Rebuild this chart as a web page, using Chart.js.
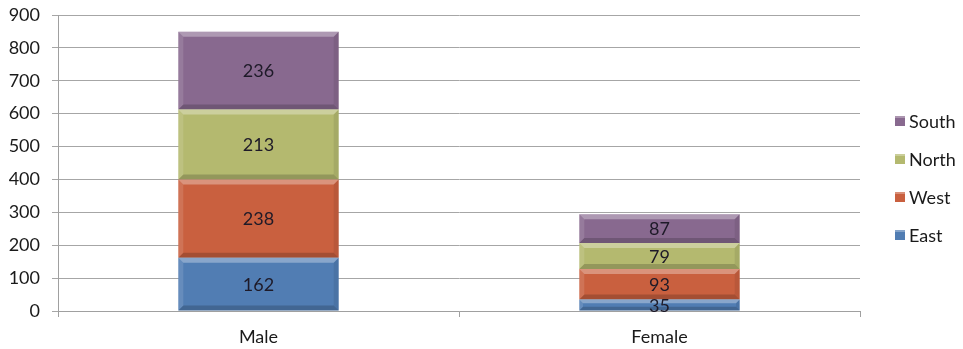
<!DOCTYPE html>
<html>
<head>
<meta charset="utf-8">
<script src="https://cdn.jsdelivr.net/npm/chart.js@4/dist/chart.umd.min.js"></script>
<style>
  body { margin: 0; background: #fff; }
  #wrap { width: 963px; height: 349px; }
</style>
</head>
<body>
<div id="wrap"><canvas id="regionChart"></canvas></div>
<script>
// Sales by gender and region
const categories = ['Male', 'Female'];
const east = [162, 35];
const west = [238, 93];
const north = [213, 79];
const south = [236, 87];
const yMax = 900;
const yStep = 100;

const FONT = 'Lato, "Liberation Sans", sans-serif';
const FONT_SIZE = 18;

// Excel-ish bevel: light strip on top, darker strip along the bottom
const bevel = {
    id: 'bevel',
    afterDatasetsDraw(chart) {
        const c = chart.ctx;
        chart.data.datasets.forEach((ds, i) => {
            chart.getDatasetMeta(i).data.forEach(bar => {
                const l = bar.x - bar.width / 2, r = bar.x + bar.width / 2;
                const t = bar.y, b = bar.base;
                const h = Math.min(5, (b - t) / 3);
                c.save();
                c.fillStyle = 'rgba(255,255,255,0.32)';
                c.beginPath();
                c.moveTo(l, t); c.lineTo(r, t); c.lineTo(r - h, t + h); c.lineTo(l + h, t + h);
                c.closePath(); c.fill();
                c.fillStyle = 'rgba(0,0,0,0.18)';
                c.beginPath();
                c.moveTo(l, b); c.lineTo(r, b); c.lineTo(r - h, b - h); c.lineTo(l + h, b - h);
                c.closePath(); c.fill();
                c.fillStyle = 'rgba(0,0,0,0.08)';
                c.beginPath();
                c.moveTo(r, t); c.lineTo(r, b); c.lineTo(r - h, b - h); c.lineTo(r - h, t + h);
                c.closePath(); c.fill();
                c.fillStyle = 'rgba(255,255,255,0.12)';
                c.beginPath();
                c.moveTo(l, t); c.lineTo(l, b); c.lineTo(l + h, b - h); c.lineTo(l + h, t + h);
                c.closePath(); c.fill();
                c.restore();
            });
        });
    }
};

// value in the middle of every segment
const valueLabels = {
    id: 'valueLabels',
    afterDatasetsDraw(chart) {
        const c = chart.ctx;
        c.save();
        c.font = FONT_SIZE + 'px ' + FONT;
        c.fillStyle = '#1e1a28';
        c.textAlign = 'center';
        c.textBaseline = 'middle';
        chart.data.datasets.forEach((ds, i) => {
            chart.getDatasetMeta(i).data.forEach((bar, j) => {
                c.fillText(ds.data[j], bar.x, (bar.y + bar.base) / 2 + 1);
            });
        });
        c.restore();
    }
};

// legend on the right, top entry is the top of the stack
const sideLegend = {
    id: 'sideLegend',
    afterDraw(chart) {
        const c = chart.ctx;
        const area = chart.chartArea;
        const x = area.right + 35;
        const gap = 38;
        const items = chart.data.datasets.slice().reverse();
        const y0 = 121;
        c.save();
        c.font = FONT_SIZE + 'px ' + FONT;
        c.textBaseline = 'middle';
        items.forEach((ds, k) => {
            const y = y0 + k * gap;
            c.fillStyle = ds.backgroundColor;
            c.fillRect(x, y - 5, 10, 10);
            c.fillStyle = 'rgba(255,255,255,0.3)';
            c.fillRect(x, y - 5, 10, 2);
            c.fillStyle = '#1a1a1a';
            c.fillText(ds.label, x + 14, y + 1);
        });
        c.restore();
    }
};

new Chart(document.getElementById('regionChart'), {
    type: 'bar',
    data: {
        labels: categories,
        datasets: [
            { label: 'East', data: east, backgroundColor: '#517db3' },
            { label: 'West', data: west, backgroundColor: '#c9603f' },
            { label: 'North', data: north, backgroundColor: '#b4b96f' },
            { label: 'South', data: south, backgroundColor: '#88698f' }
        ]
    },
    options: {
        responsive: true,
        maintainAspectRatio: false,
        animation: false,
        layout: { padding: { top: 15, right: 103, bottom: 0, left: 0 } },
        datasets: { bar: { barPercentage: 0.4, categoryPercentage: 1, borderWidth: 0 } },
        scales: {
            x: {
                stacked: true,
                afterFit(scale) {
                    scale.height = 38;
                    scale.paddingLeft = 0;
                    scale.paddingRight = 0;
                },
                grid: { drawOnChartArea: false, tickLength: 6, color: '#a0a0a0' },
                border: { color: '#a0a0a0' },
                ticks: { color: '#1a1a1a', padding: 9, font: { family: FONT, size: FONT_SIZE } }
            },
            y: {
                stacked: true,
                min: 0,
                max: yMax,
                afterFit(scale) {
                    scale.width = 58;
                    scale.paddingTop = 0;
                    scale.paddingBottom = 0;
                },
                grid: { color: '#a6a6a6', tickLength: 6 },
                border: { color: '#a0a0a0' },
                ticks: { stepSize: yStep, color: '#1a1a1a', padding: 12, font: { family: FONT, size: FONT_SIZE } }
            }
        },
        plugins: {
            legend: { display: false },
            tooltip: { enabled: false }
        }
    },
    plugins: [bevel, valueLabels, sideLegend]
});
</script>
</body>
</html>
